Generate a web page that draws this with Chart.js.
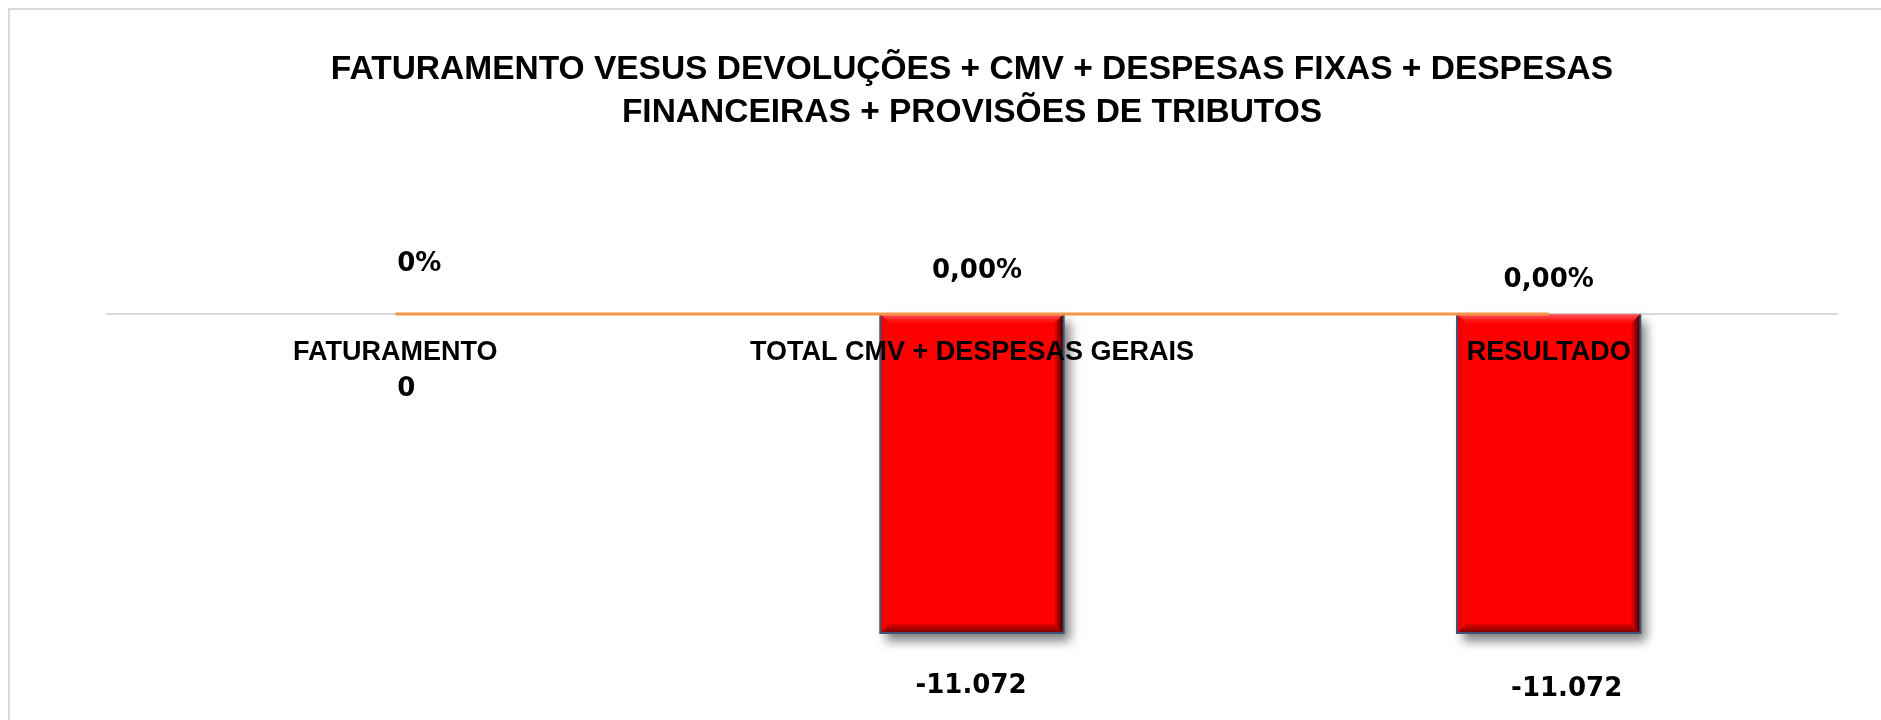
<!DOCTYPE html>
<html>
<head>
<meta charset="utf-8">
<script src="https://cdn.jsdelivr.net/npm/chart.js@4.4.1/dist/chart.umd.min.js"></script>
<style>
  html, body { margin: 0; padding: 0; background: #ffffff; overflow: hidden; }
  #frame { position: absolute; left: 8px; top: 8px; width: 1900px; height: 740px;
           border-left: 2px solid #d9d9d9; border-top: 2px solid #d9d9d9; }
  #wrap { position: absolute; left: 0; top: 0; width: 1881px; height: 720px; }
</style>
</head>
<body>
<div id="frame"></div>
<div id="wrap"><canvas id="c"></canvas></div>
<script>
// ---- data ----
const titulo = ['FATURAMENTO VESUS DEVOLUÇÕES + CMV + DESPESAS FIXAS + DESPESAS',
                'FINANCEIRAS + PROVISÕES DE TRIBUTOS'];
const categorias = ['FATURAMENTO', 'TOTAL CMV + DESPESAS GERAIS', 'RESULTADO'];
const valores = [0, -11072, -11072];
const percentuais = [0, 0, 0];
const rotulosPercentuais = ['0%', '0,00%', '0,00%'];

// ---- label placement (style) ----
const pctLabelOffset = [[24, -50], [5, -43], [0, -34]];
const barLabelOffset = [[11, 75], [-1, 53], [18, 56]];

function fmtBR(v) {
  const s = Math.abs(Math.round(v)).toString().replace(/\B(?=(\d{3})+(?!\d))/g, '.');
  return (v < 0 ? '-' : '') + s;
}

const barFx = {
  id: 'barFx',
  beforeDatasetDraw(chart, args) {
    if (args.index !== 0) return;
    const ctx = chart.ctx;
    ctx.save();
    ctx.shadowColor = 'rgba(0,0,0,0.5)';
    ctx.shadowBlur = 10;
    ctx.shadowOffsetX = 6;
    ctx.shadowOffsetY = 8;
  },
  afterDatasetDraw(chart, args) {
    if (args.index !== 0) return;
    const ctx = chart.ctx;
    ctx.restore();
    args.meta.data.forEach(el => {
      const p = el.getProps(['x', 'y', 'base', 'width'], true);
      const top = Math.min(p.y, p.base), bot = Math.max(p.y, p.base);
      if (bot - top < 2) return;
      const l = p.x - p.width / 2, r = p.x + p.width / 2;
      const b = 9;
      ctx.save();
      let g = ctx.createLinearGradient(0, top, 0, top + b);
      g.addColorStop(0, 'rgba(255,120,120,0.85)');
      g.addColorStop(1, 'rgba(255,40,40,0.2)');
      ctx.beginPath();
      ctx.moveTo(l, top); ctx.lineTo(r, top); ctx.lineTo(r - b, top + b); ctx.lineTo(l + b, top + b);
      ctx.closePath(); ctx.fillStyle = g; ctx.fill();
      g = ctx.createLinearGradient(0, bot - b, 0, bot);
      g.addColorStop(0, 'rgba(150,0,0,0.3)');
      g.addColorStop(1, 'rgba(90,0,0,0.85)');
      ctx.beginPath();
      ctx.moveTo(l, bot); ctx.lineTo(r, bot); ctx.lineTo(r - b, bot - b); ctx.lineTo(l + b, bot - b);
      ctx.closePath(); ctx.fillStyle = g; ctx.fill();
      g = ctx.createLinearGradient(r - b, 0, r, 0);
      g.addColorStop(0, 'rgba(120,0,0,0.2)');
      g.addColorStop(1, 'rgba(20,0,0,0.95)');
      ctx.beginPath();
      ctx.moveTo(r, top); ctx.lineTo(r, bot); ctx.lineTo(r - b, bot - b); ctx.lineTo(r - b, top + b);
      ctx.closePath(); ctx.fillStyle = g; ctx.fill();
      g = ctx.createLinearGradient(l, 0, l + b, 0);
      g.addColorStop(0, 'rgba(200,0,0,0.6)');
      g.addColorStop(1, 'rgba(255,0,0,0)');
      ctx.beginPath();
      ctx.moveTo(l, top); ctx.lineTo(l, bot); ctx.lineTo(l + b, bot - b); ctx.lineTo(l + b, top + b);
      ctx.closePath(); ctx.fillStyle = g; ctx.fill();
      ctx.strokeStyle = '#3d5478';
      ctx.lineWidth = 2;
      ctx.beginPath();
      ctx.moveTo(r, top + 1); ctx.lineTo(r, bot); ctx.lineTo(l, bot); ctx.lineTo(l, top + 1);
      ctx.stroke();
      ctx.restore();
    });
  }
};

const labelsPlugin = {
  id: 'valueLabels',
  afterDraw(chart) {
    const ctx = chart.ctx;
    ctx.save();
    ctx.font = 'bold 26px "DejaVu Sans"';
    ctx.fillStyle = '#000000';
    ctx.textAlign = 'center';
    ctx.textBaseline = 'middle';
    chart.getDatasetMeta(0).data.forEach((el, i) => {
      const p = el.getProps(['x', 'y', 'base'], true);
      const o = barLabelOffset[i];
      ctx.fillText(fmtBR(valores[i]), p.x + o[0], Math.max(p.y, p.base) + o[1]);
    });
    chart.getDatasetMeta(1).data.forEach((el, i) => {
      const p = el.getProps(['x', 'y'], true);
      const o = pctLabelOffset[i];
      ctx.fillText(rotulosPercentuais[i], p.x + o[0], p.y + o[1]);
    });
    ctx.restore();
  }
};

new Chart(document.getElementById('c'), {
  data: {
    labels: categorias,
    datasets: [
      {
        type: 'bar',
        label: 'Valor',
        data: valores,
        yAxisID: 'y',
        backgroundColor: '#ff0000',
        borderWidth: 0,
        barPercentage: 0.318,
        categoryPercentage: 1,
        order: 1
      },
      {
        type: 'line',
        label: '%',
        data: percentuais,
        yAxisID: 'y2',
        borderColor: '#f79646',
        borderWidth: 3,
        pointRadius: 0,
        fill: false,
        order: 0
      }
    ]
  },
  options: {
    responsive: true,
    maintainAspectRatio: false,
    animation: false,
    events: [],
    layout: { padding: { left: 107, right: 44, top: 0, bottom: 20 } },
    plugins: {
      legend: { display: false },
      tooltip: { enabled: false },
      title: {
        display: true,
        text: titulo,
        fullSize: false,
        color: '#000000',
        font: { family: '"Liberation Sans"', size: 33.5, weight: 'bold', lineHeight: 1.2836 },
        padding: { top: 48.5, bottom: 35.5 }
      }
    },
    scales: {
      x: {
        type: 'category',
        position: { y: 0 },
        offset: true,
        grid: { display: false, drawTicks: false },
        border: { display: true, color: '#d9d9d9', width: 2 },
        ticks: {
          z: 1,
          padding: 22,
          color: '#000000',
          autoSkip: false,
          maxRotation: 0,
          font: { family: '"Liberation Sans"', size: 27, weight: 'bold' }
        }
      },
      y: { display: false, min: -13400, max: 5000 },
      y2: { display: false, min: -2.68, max: 1 }
    }
  },
  plugins: [barFx, labelsPlugin]
});
</script>
</body>
</html>
